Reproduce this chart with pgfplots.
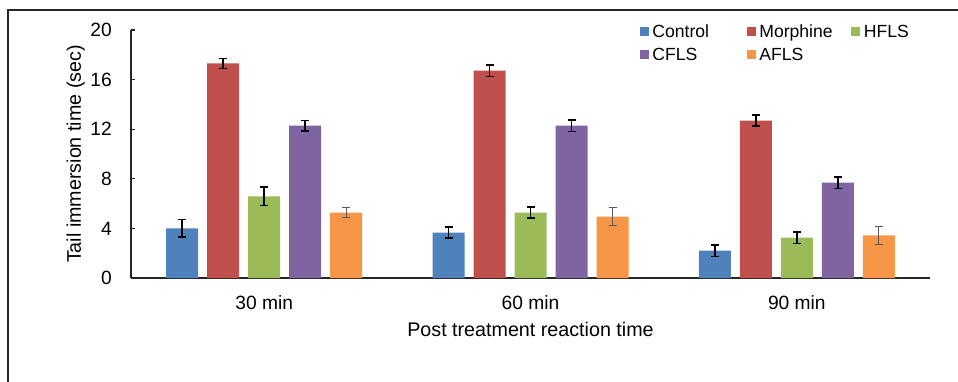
\documentclass[border=0pt]{standalone}
\usepackage{pgfplots}
\pgfplotsset{compat=1.18}
\usepackage{fontspec}
\setmainfont{Liberation Sans}
\definecolor{cA}{HTML}{4F81BD}
\definecolor{cB}{HTML}{C0504D}
\definecolor{cC}{HTML}{9BBB59}
\definecolor{cD}{HTML}{8064A2}
\definecolor{cE}{HTML}{F79646}
\begin{document}
\begin{tikzpicture}[x=1pt,y=1pt]
\useasboundingbox (0,0) rectangle (958,381);
\draw[line width=1.2pt, black!85] (8,-20) -- (8,371) -- (980,371);
\begin{axis}[
  at={(131pt,103pt)}, anchor=south west,
  width=799pt, height=248pt, scale only axis,
  ybar=9pt, bar width=32pt,
  xmin=-0.5, xmax=2.5, ymin=0, ymax=20,
  axis lines=left, axis line style={-, line width=1.3pt, black!85},
  xtick={0,1,2}, xticklabels={30 min,60 min,90 min},
  xtick style={draw=none},
  ytick={0,4,8,12,16,20},
  tick align=inside, major tick length=4pt,
  ytick style={line width=1.3pt, black!85},
  /pgf/number format/assume math mode=true,
  ticklabel style={font=\fontsize{19.2}{23}\selectfont},
  yticklabel style={anchor=east, inner sep=0pt, xshift=-19pt},
  xticklabel style={anchor=base, yshift=-31pt},
  label style={font=\fontsize{19.7}{24}\selectfont},
  xlabel={Post treatment reaction time},
  ylabel={Tail immersion time (sec)},
  xlabel style={at={(axis description cs:0.5,-0.2339)}, anchor=base},
  ylabel style={at={(axis description cs:-0.0626,0.5)}, anchor=base},
  legend image code/.code={\fill[#1] (0pt,1.7pt) rectangle (9pt,10.7pt);},
  legend columns=3,
  legend style={at={(axis description cs:0.637,1.0198)}, anchor=north west,
    draw=none, fill=none, inner sep=0pt, outer sep=0pt,
    row sep=10.2pt, column sep=0pt,
    font=\fontsize{17.6}{21}\selectfont,
    cells={anchor=base west},
    nodes={inner sep=0pt, text height=12.6pt, text depth=0pt, anchor=base west}},
  error bars/y dir=both, error bars/y explicit,
  error bars/error bar style={line width=1.5pt, black},
  error bars/error mark options={rotate=90, mark size=4pt, line width=1.5pt, black},
]
\addplot[fill=cA, draw=none] coordinates {(0,4.0) +- (0,0.7) (1,3.66) +- (0,0.44) (2,2.2) +- (0,0.45)};
\addplot[fill=cB, draw=none] coordinates {(0,17.3) +- (0,0.42) (1,16.72) +- (0,0.45) (2,12.69) +- (0,0.45)};
\addplot[fill=cC, draw=none] coordinates {(0,6.59) +- (0,0.75) (1,5.27) +- (0,0.45) (2,3.25) +- (0,0.45)};
\addplot[fill=cD, draw=none] coordinates {(0,12.28) +- (0,0.42) (1,12.28) +- (0,0.45) (2,7.69) +- (0,0.46)};
\addplot[fill=cE, draw=none,
  error bars/error bar style={line width=1pt, black!65},
  error bars/error mark options={rotate=90, mark size=4pt, line width=1pt, black!65}]
  coordinates {(0,5.27) +- (0,0.42) (1,4.95) +- (0,0.74) (2,3.44) +- (0,0.74)};
\addlegendentry{\makebox[98pt][l]{\hspace{3.4pt}Control}}
\addlegendentry{\makebox[95.5pt][l]{\hspace{3.4pt}Morphine}}
\addlegendentry{\makebox[60pt][l]{\hspace{3.4pt}HFLS}}
\addlegendentry{\makebox[98pt][l]{\hspace{3.4pt}CFLS}}
\addlegendentry{\makebox[95.5pt][l]{\hspace{3.4pt}AFLS}}
\end{axis}
\end{tikzpicture}
\end{document}
